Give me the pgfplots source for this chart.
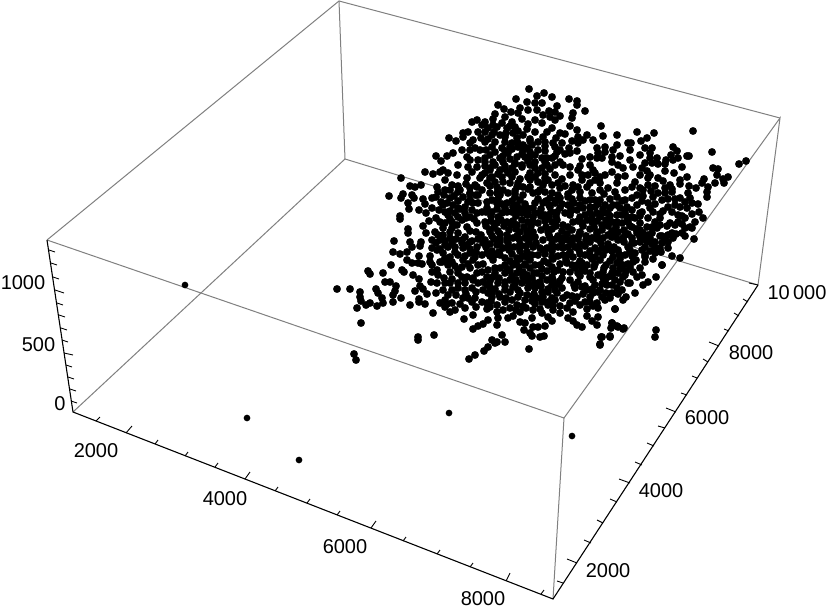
\documentclass[border=0pt]{standalone}
\usepackage{pgfplots}
\pgfplotsset{compat=1.18}
\usepackage{fontspec}
\setmainfont{Liberation Sans}
\definecolor{boxgray}{HTML}{808080}
\tikzset{ticklab/.style={font=\fontsize{20}{24}\selectfont, inner sep=0pt, text=black}}
% the 3D box is seen in perspective, so everything is read off in picture coordinates
\begin{document}
\begin{tikzpicture}
\begin{axis}[
  width=830pt, height=610pt, scale only axis,
  xmin=0, xmax=830, ymin=0, ymax=610, y dir=reverse,
  hide axis, clip=true,
]
% keeps the page at the full picture size
\addplot[draw=none, fill=white] coordinates {(0,0)(830,0)(830,610)(0,610)} -- cycle;
% main cloud
\addplot[only marks, mark=*, mark size=3.7pt, mark options={draw=none, fill=black}] coordinates {
(477,120)(472,122)(478,132)(468,132)(463,133)(449,138)(456,141)(463,137)(473,140)(470,143)(475,148)(462,150)(453,153)(447,156)(436,156)(441,161)(425,172)(433,174)(443,170)(448,173)(440,172)(458,165)(467,157)(477,167)(468,167)(457,175)(467,178)(445,180)(401,178)(410,186)(415,187)(421,185)(437,187)(438,192)(445,190)(389,196)(403,194)(401,198)(412,195)(414,198)(423,199)(432,198)(436,197)(425,204)(408,203)(409,209)(419,210)(432,208)(426,213)(450,198)(453,205)(445,212)(455,213)(400,216)(400,219)(429,221)(445,223)(408,229)(423,226)(443,228)(463,197)(470,193)(477,187)(458,192)(465,207)(473,203)(470,217)(462,220)(477,213)(477,223)(467,227)(457,225)(452,222)
(529,89)(544,93)(516,99)(537,96)(552,97)(527,102)(535,103)(542,103)(569,99)(577,101)(577,105)(498,105)(557,106)(585,111)(504,109)(520,108)(528,110)(537,110)(549,111)(555,112)(495,114)(511,112)(518,113)(573,113)(572,118)(560,116)(550,117)(543,115)(535,120)(542,123)(555,120)(505,117)(522,119)(493,119)(485,122)(512,122)(502,123)(570,126)(601,126)(552,128)(577,130)(547,132)(527,129)(515,127)(507,128)(497,127)(488,128)(482,125)(565,134)(587,135)(603,136)(617,135)(578,137)(556,138)(543,137)(523,135)(513,133)(500,135)(485,132)(492,135)(593,140)(583,140)(578,143)(538,142)(628,143)(562,143)(512,143)(495,142)(485,142)(523,145)(532,145)(555,147)(617,145)(605,147)(597,148)(569,148)(577,151)(560,150)(613,150)(502,148)(492,147)(518,147)(538,150)(557,152)(530,152)(598,153)(605,152)(495,152)(508,153)(570,153)(620,156)(590,157)(612,157)(597,158)(602,158)(582,159)(552,158)(542,158)(517,157)(525,157)(485,158)(560,162)(503,162)(493,162)(535,162)(618,165)(612,162)(590,165)(580,166)(570,167)(555,165)(563,165)(547,165)(522,165)(512,168)(485,166)(623,168)(593,170)(578,170)(542,168)(500,170)(508,173)(490,170)(600,177)(625,176)(618,177)(582,175)(570,175)(555,175)(538,173)(528,177)(482,175)(588,175)(595,173)(512,177)(502,177)(492,177)(548,180)(617,183)(600,183)(573,185)(558,183)(538,182)(530,180)(487,183)(503,182)(510,183)(587,187)(572,190)(560,188)(552,185)(523,187)(517,187)(497,187)(580,192)(615,192)(604,194)(592,193)(558,195)(545,192)(533,193)(508,193)(490,193)(482,190)(523,195)(500,195)(617,197)(568,197)(580,198)(595,200)(550,198)(560,198)(515,197)
(487,202)(497,203)(507,203)(517,205)(535,203)(543,203)(555,203)(568,205)(580,205)(590,207)(605,205)(613,205)(627,207)(620,208)(527,208)(482,212)(492,212)(502,213)(512,212)(522,213)(535,213)(545,215)(557,212)(565,213)(577,210)(585,215)(597,213)(608,213)(617,215)(627,217)(485,222)(497,223)(507,222)(517,225)(528,222)(538,223)(552,222)(563,225)(573,222)(582,223)(592,222)(602,225)(612,222)(622,223)
(693,131)(637,132)(654,133)(647,138)(641,141)(631,143)(673,147)(645,148)(652,148)(677,151)(712,152)(671,155)(650,153)(687,156)(689,156)(666,160)(678,158)(650,158)(673,160)(746,161)(739,164)(645,163)(658,164)(652,163)(665,164)(682,167)(633,167)(713,168)(642,168)(718,169)(647,171)(665,171)(674,173)(717,175)(650,175)(658,178)(687,177)(728,177)(723,179)(663,181)(680,180)(704,179)(635,182)(702,183)(680,184)(715,183)(724,183)(689,186)(696,188)(648,185)(655,186)(708,187)(665,188)(643,190)(651,191)(688,193)(707,192)(637,195)(658,193)(665,193)(707,197)(643,196)(653,197)(675,199)(680,198)(632,198)(662,200)(685,202)(692,203)(698,204)(675,205)(655,204)(648,203)(637,205)(680,207)(687,208)(663,211)(699,212)(632,210)(642,212)(653,212)(692,214)(682,216)(703,218)(685,218)(648,218)(635,218)(678,222)(670,223)(655,222)(640,223)(667,226)(690,227)(675,225)(682,224)(632,227)(647,227)
(692,228)(685,228)(682,233)(672,233)(673,238)(694,239)(685,236)(652,233)(643,233)(668,235)(637,233)(655,242)(668,242)(662,243)(647,242)(632,243)(640,242)(668,248)(661,252)(655,253)(672,256)(680,258)(645,257)(635,253)(653,259)(662,265)(645,262)(633,262)(640,268)(637,277)(656,277)(633,272)(648,282)(643,285)(642,275)(630,283)(635,293)
(408,233)(394,241)(410,242)(412,247)(421,242)(420,246)(436,243)(426,233)(435,232)(443,235)(450,238)(465,237)(470,242)(393,252)(400,254)(407,252)(437,250)(419,256)(443,253)(455,252)(476,252)(407,260)(412,263)(418,263)(422,264)(430,262)(432,265)(442,262)(447,260)(452,262)(463,260)(473,260)(391,265)(402,270)(404,272)(368,271)(370,274)(383,273)(437,270)(432,272)(462,267)(470,268)(458,273)(477,273)(413,275)(438,275)(419,279)(467,277)(385,282)(390,282)(431,282)(450,283)(458,283)(445,283)(473,280)(396,286)(420,286)(337,289)(350,289)(376,289)(395,291)(415,291)(423,289)(443,290)(458,288)(472,288)(360,292)(378,293)(393,295)(427,294)(448,295)(456,295)(463,298)(468,298)(382,298)(360,297)(401,298)(393,302)(419,299)(419,302)(445,300)(383,303)(370,303)(361,301)(366,305)(425,304)(440,303)(447,304)(410,305)(377,306)(357,308)(476,307)(455,310)(450,312)(433,313)(473,315)(464,319)(361,323)(478,326)(473,329)(418,337)(418,340)(434,335)(354,354)(356,360)(475,355)(469,359)(448,247)(445,258)(470,253)(477,247)(462,243)
(529,349)(484,351)(488,347)(505,342)(495,343)(492,340)(502,335)(497,342)(600,344)(602,337)(610,336)(532,336)(540,337)(544,336)(524,330)(530,333)(533,327)(538,327)(545,326)(552,321)(520,322)(525,323)(532,318)(483,324)(488,320)(497,325)(498,318)(508,318)(513,316)(497,312)(503,310)(520,312)(510,308)(533,310)(542,313)(548,317)(560,313)(568,318)(573,321)(577,325)(582,327)(587,316)(592,321)(598,317)(597,325)(612,323)(611,328)(618,327)(624,328)(615,309)(598,308)(597,303)(623,300)(626,297)(622,290)(625,275)(628,283)
(573,312)(560,306)(570,303)(580,305)(585,302)(577,297)(567,295)(563,298)(548,305)(542,302)(487,303)(490,307)(482,302)(500,297)(512,300)(517,305)(527,295)(537,298)(518,297)(492,293)(483,290)(505,290)(513,287)(528,288)(542,292)(552,285)(562,288)(593,293)(602,297)(612,293)(587,290)(582,287)(595,285)(607,285)(617,288)(490,287)(498,283)(510,280)(522,283)(535,283)(547,280)(570,280)(615,280)(483,282)(493,277)(505,273)(517,273)(527,275)(537,273)(558,270)(563,272)(570,272)(590,273)(598,275)(608,277)(618,273)(577,265)(567,263)(535,265)(525,265)(513,265)(500,268)(488,270)(587,265)(613,268)(623,265)(487,253)(495,255)(505,258)(517,258)(527,257)(538,255)(552,257)(563,255)(573,257)(585,255)(595,257)(613,257)(625,255)(497,245)(508,248)(520,247)(533,247)(547,248)(558,247)(568,247)(595,248)(608,248)(618,250)(628,247)(485,240)(500,238)(513,238)(525,238)(535,237)(550,238)(563,238)(573,238)(592,238)(603,238)(612,237)(623,238)(490,232)(520,232)(533,232)(548,232)(580,232)(597,232)(618,232)
(617,326)(623,329)(612,323)(601,337)(610,337)(600,345)(615,309)(662,265)(656,330)(655,337)
% the packed middle, where single dots can only be told apart roughly
(492,200)(498,199)(512,201)(520,200)(538,199)(546,201)(556,200)(572,199)(585,201)(600,200)(610,199)(622,201)
(487,208)(497,209)(505,208)(513,207)(521,209)(533,208)(541,209)(550,207)(560,208)(571,209)(583,208)(595,207)(603,209)(610,208)(625,210)
(491,216)(498,217)(516,216)(527,215)(533,217)(541,216)(549,217)(556,216)(570,215)(580,217)(592,216)(600,217)(610,216)(622,215)(632,217)(640,216)
(486,226)(494,227)(504,226)(511,225)(524,227)(531,226)(546,227)(556,226)(568,227)(583,226)(594,227)(608,226)(616,227)(630,226)(652,227)
(481,235)(492,236)(500,234)(507,235)(517,236)(527,234)(549,235)(558,236)(567,234)(579,235)(586,236)(597,234)(608,235)(616,236)(628,234)(648,235)(660,236)
(483,243)(490,244)(500,242)(508,243)(520,244)(529,242)(536,243)(552,244)(562,242)(572,243)(580,244)(590,242)(601,243)(608,244)(624,242)(634,243)(652,244)
(492,251)(499,252)(509,250)(520,251)(527,252)(543,250)(552,251)(570,252)(579,250)(590,251)(598,252)(606,250)(612,251)(630,252)(642,250)(650,251)
(493,260)(510,261)(520,259)(530,260)(544,261)(553,259)(566,260)(580,261)(592,259)(600,260)(610,261)(620,259)(636,260)
(495,268)(507,269)(519,267)(530,268)(542,269)(552,267)(575,268)(582,269)(594,267)(604,268)(620,269)(630,267)
(487,277)(499,278)(512,276)(523,277)(532,278)(542,276)(552,277)(562,278)(580,276)(590,277)(603,278)(612,276)(623,277)
(487,285)(505,286)(515,284)(529,285)(541,286)(558,284)(574,285)(585,286)(602,284)(612,285)
(488,293)(499,294)(510,292)(520,293)(534,294)(548,292)(557,293)(583,294)(598,292)(606,293)(618,294)
(491,301)(505,302)(525,300)(532,301)(548,302)(555,300)(575,301)(590,302)(605,300)
(487,309)(516,310)(526,308)(540,309)(553,310)(567,308)(587,309)
(452,185)(458,186)(466,184)(475,185)(444,195)(454,196)(470,194)(478,195)
(441,202)(447,203)(458,201)(468,202)(478,203)(439,210)(450,211)(460,209)(472,210)
(436,218)(450,219)(458,217)(466,218)(474,219)(450,232)(458,233)(470,231)(476,232)
(440,240)(445,241)(456,239)(462,240)(472,241)(478,239)(432,248)(440,249)(455,247)(463,248)(470,249)
(430,256)(450,257)(458,255)(465,256)(475,257)(448,265)(455,266)(468,264)(478,265)
(444,278)(452,279)(462,277)(473,278)(436,293)(466,294)(476,292)(452,303)(460,304)(472,302)
(481,138)(488,139)(505,137)(517,138)(530,139)(486,150)(505,151)(512,149)(523,150)(545,151)
(500,158)(510,159)(530,157)(547,158)(495,165)(505,166)(515,164)(530,165)
(485,173)(498,174)(515,172)(530,173)(545,174)(495,182)(518,183)(545,181)
(503,190)(515,191)(528,189)(540,190)(640,188)(672,189)(625,200)(642,201)(668,199)
(625,213)(660,214)(672,212)(660,225)(625,235)(662,236)(676,234)(645,247)(660,248)
(502,204)(525,204)(549,205)(562,204)(574,203)(598,204)(617,205)
(486,212)(507,212)(517,211)(528,212)(540,213)(551,212)(571,211)(590,212)(603,213)
(491,221)(501,220)(513,221)(522,220)(533,222)(545,221)(557,220)(578,221)(587,220)(597,221)(606,220)(617,222)(627,221)
(490,230)(498,231)(509,230)(516,229)(527,231)(541,230)(552,229)(562,231)(572,230)(590,229)(602,230)(612,231)(624,230)(636,229)
(494,239)(507,240)(519,239)(530,238)(543,240)(556,239)(568,240)(578,239)(586,240)(597,239)(618,240)(632,238)(645,239)
(486,247)(503,248)(514,247)(526,246)(540,248)(553,247)(563,248)(575,247)(585,246)(602,248)(614,247)
(482,255)(490,256)(500,255)(512,254)(522,256)(532,255)(545,254)(558,256)(568,255)(580,254)(590,256)(603,255)(619,254)(632,256)(645,255)
(483,264)(505,265)(516,263)(525,264)(540,265)(548,263)(560,264)(572,265)(582,263)(595,264)(606,265)(617,263)(628,264)
(482,272)(495,273)(510,271)(523,272)(534,273)(547,271)(554,272)(578,273)(585,271)(603,272)(612,273)(626,271)
(490,281)(505,282)(516,280)(528,281)(540,282)(553,280)(560,281)(578,282)(593,280)(605,281)(620,282)
(495,289)(518,290)(535,288)(548,289)(555,290)(575,288)(592,289)(600,290)
(492,297)(506,298)(533,296)(543,297)(552,298)(572,296)(590,297)(610,298)
(497,305)(523,306)(535,304)(553,305)(593,306)
(493,125)(510,126)(528,124)(494,132)(506,133)(518,131)(535,132)(560,133)
(505,142)(518,143)(530,141)(545,142)(553,143)(572,141)(510,147)(527,148)(545,146)
(490,155)(503,156)(522,154)(535,155)(555,156)(565,154)(485,162)(515,163)(528,161)(545,162)
(490,168)(505,169)(522,167)(535,168)(550,169)(490,178)(520,179)(535,177)(545,178)(562,179)
(490,186)(530,187)(543,185)(565,186)(578,187)(497,193)(515,194)(538,192)(552,193)(568,194)
(630,150)(640,155)(657,158)(630,160)(640,175)(632,187)(648,178)(670,185)(672,192)(690,198)
(668,207)(650,208)(640,213)(660,218)(628,222)(640,230)(657,228)(678,215)(695,222)(665,240)
(650,238)(640,237)(630,250)(655,248)(605,175)(595,180)(608,188)(590,200)(625,190)(612,172)
(582,180)(590,183)(600,190)
(448,215)(443,205)(458,208)(440,222)(452,228)(465,213)(460,190)(470,188)(450,190)(470,200)(476,195)
(445,245)(452,243)(467,245)(440,262)(458,270)(450,272)(465,283)(478,283)(437,283)(452,290)(465,290)
(475,298)(445,307)(465,308)(438,235)(432,240)(470,150)(480,150)(478,160)(470,160)(480,178)(472,172)
};
% the few stragglers, a little smaller
\addplot[only marks, mark=*, mark size=3.1pt, mark options={draw=none, fill=black}] coordinates {
(185,285)(247,418)(299,460)(449,413)(572,436)
};
% box edges
\addplot[boxgray, line width=1pt] coordinates {(73,412)(345,159)(758,285)};
\addplot[boxgray, line width=1pt] coordinates {(345,159)(339,1)};
\addplot[boxgray, line width=1pt] coordinates {(47,240)(339,1)(780,118)};
\addplot[boxgray, line width=1pt] coordinates {(47,240)(564,418)(780,118)(758,285)};
\addplot[boxgray, line width=1pt] coordinates {(564,418)(553,599)};
% front axes
\addplot[black, line width=1.1pt] coordinates {(47,240)(73,412)(553,599)(758,285)};
% z ticks
\addplot[black, line width=.9pt] coordinates {(49,250)(55,252)};
\addplot[black, line width=.9pt] coordinates {(51,263)(57,265)};
\addplot[black, line width=.9pt] coordinates {(53,277)(59,279)};
\addplot[black, line width=.9pt] coordinates {(55,290)(64,293)};
\addplot[black, line width=.9pt] coordinates {(57,303)(63,305)};
\addplot[black, line width=.9pt] coordinates {(59,315)(65,317)};
\addplot[black, line width=.9pt] coordinates {(61,328)(67,330)};
\addplot[black, line width=.9pt] coordinates {(62,340)(68,342)};
\addplot[black, line width=.9pt] coordinates {(64,353)(73,355)};
\addplot[black, line width=.9pt] coordinates {(66,365)(72,367)};
\addplot[black, line width=.9pt] coordinates {(68,377)(74,379)};
\addplot[black, line width=.9pt] coordinates {(70,389)(76,391)};
\addplot[black, line width=.9pt] coordinates {(71,401)(77,403)};
% x ticks
\addplot[black, line width=.9pt] coordinates {(96,421)(100,417)};
\addplot[black, line width=.9pt] coordinates {(126,433)(132,426)};
\addplot[black, line width=.9pt] coordinates {(155,444)(158,440)};
\addplot[black, line width=.9pt] coordinates {(185,456)(188,452)};
\addplot[black, line width=.9pt] coordinates {(215,467)(218,463)};
\addplot[black, line width=.9pt] coordinates {(245,479)(250,472)};
\addplot[black, line width=.9pt] coordinates {(275,491)(278,487)};
\addplot[black, line width=.9pt] coordinates {(307,503)(310,499)};
\addplot[black, line width=.9pt] coordinates {(337,515)(340,511)};
\addplot[black, line width=.9pt] coordinates {(371,528)(376,521)};
\addplot[black, line width=.9pt] coordinates {(403,541)(406,537)};
\addplot[black, line width=.9pt] coordinates {(437,554)(440,550)};
\addplot[black, line width=.9pt] coordinates {(470,567)(473,563)};
\addplot[black, line width=.9pt] coordinates {(506,581)(510,573)};
\addplot[black, line width=.9pt] coordinates {(541,594)(544,590)};
% y ticks
\addplot[black, line width=.9pt] coordinates {(563,583)(557,581)};
\addplot[black, line width=.9pt] coordinates {(577,563)(567,559)};
\addplot[black, line width=.9pt] coordinates {(591,543)(584,540)};
\addplot[black, line width=.9pt] coordinates {(603,523)(597,520)};
\addplot[black, line width=.9pt] coordinates {(617,502)(610,499)};
\addplot[black, line width=.9pt] coordinates {(630,483)(619,479)};
\addplot[black, line width=.9pt] coordinates {(642,465)(635,462)};
\addplot[black, line width=.9pt] coordinates {(654,446)(647,443)};
\addplot[black, line width=.9pt] coordinates {(665,428)(658,426)};
\addplot[black, line width=.9pt] coordinates {(676,412)(666,408)};
\addplot[black, line width=.9pt] coordinates {(687,395)(681,393)};
\addplot[black, line width=.9pt] coordinates {(697,378)(692,376)};
\addplot[black, line width=.9pt] coordinates {(708,362)(703,359)};
\addplot[black, line width=.9pt] coordinates {(719,346)(709,342)};
\addplot[black, line width=.9pt] coordinates {(729,331)(724,329)};
\addplot[black, line width=.9pt] coordinates {(739,316)(734,313)};
\addplot[black, line width=.9pt] coordinates {(748,302)(743,299)};
\addplot[black, line width=.9pt] coordinates {(758,285)(749,283)};
% tick labels
\node[ticklab] at (axis cs:23,283) {1000};
\node[ticklab] at (axis cs:38.5,345) {500};
\node[ticklab] at (axis cs:60,404) {0};
\node[ticklab] at (axis cs:96,451) {2000};
\node[ticklab] at (axis cs:225,499) {4000};
\node[ticklab] at (axis cs:345,547) {6000};
\node[ticklab] at (axis cs:483,599) {8000};
\node[ticklab] at (axis cs:608,571) {2000};
\node[ticklab] at (axis cs:661,491) {4000};
\node[ticklab] at (axis cs:707,418) {6000};
\node[ticklab] at (axis cs:751,353) {8000};
\node[ticklab] at (axis cs:797,293) {10\,000};
\end{axis}
\end{tikzpicture}
\end{document}
